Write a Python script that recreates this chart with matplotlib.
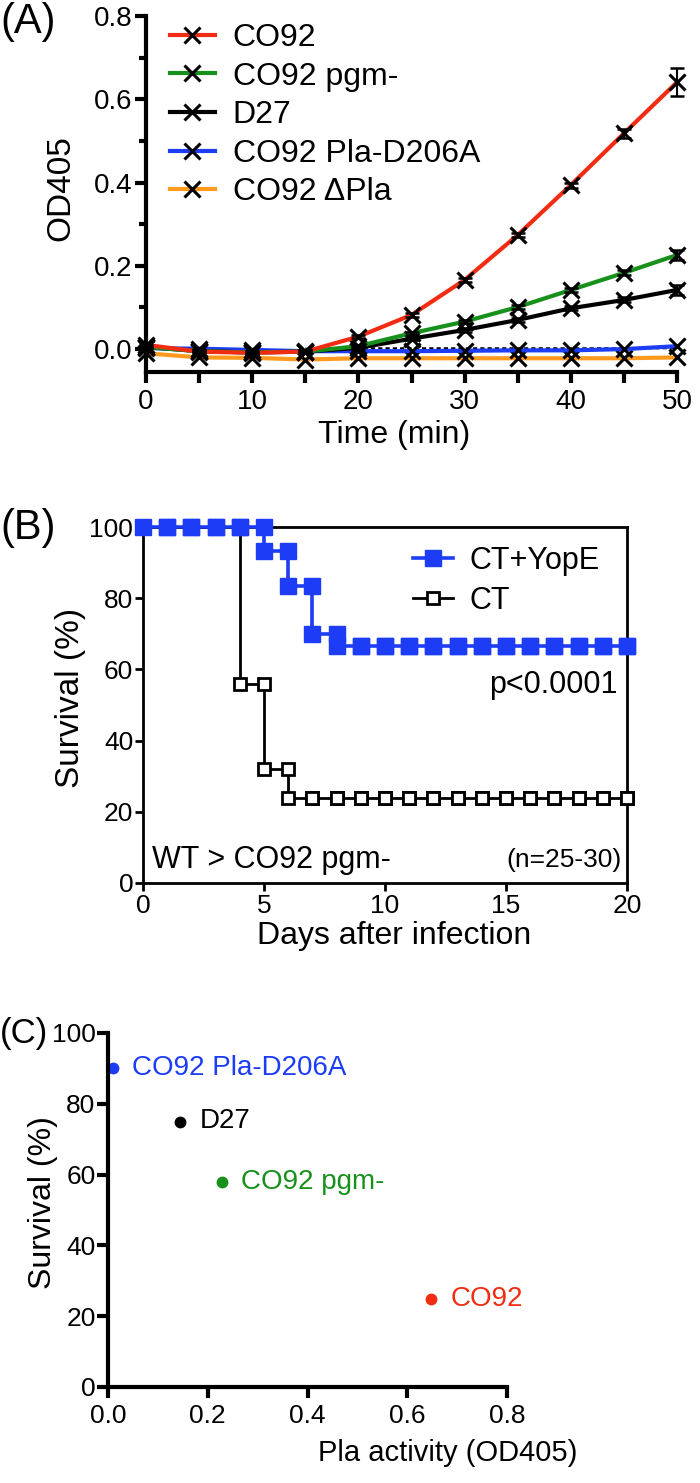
import matplotlib
matplotlib.use("Agg")
import matplotlib.pyplot as plt
import numpy as np

plt.rcParams['font.family'] = ['Liberation Sans', 'DejaVu Sans']

# ---- panel A : Pla activity over time ----
time_min = [0, 5, 10, 15, 20, 25, 30, 35, 40, 45, 50]
od_co92 = [0.010, -0.006, -0.009, -0.006, 0.030, 0.082, 0.166, 0.274, 0.394, 0.518, 0.641]
od_pgm = [0.005, -0.005, -0.008, -0.006, 0.007, 0.038, 0.066, 0.101, 0.142, 0.183, 0.226]
od_d27 = [0.005, -0.005, -0.008, -0.006, 0.003, 0.025, 0.046, 0.070, 0.098, 0.118, 0.142]
od_d206a = [0.002, 0.001, -0.002, -0.005, -0.005, -0.005, -0.004, -0.003, -0.003, 0.000, 0.007]
od_dpla = [-0.010, -0.020, -0.021, -0.025, -0.022, -0.022, -0.022, -0.022, -0.022, -0.022, -0.020]
err_co92 = [0.003, 0.003, 0.003, 0.003, 0.004, 0.004, 0.005, 0.005, 0.006, 0.010, 0.033]
err_pgm = [0.003, 0.003, 0.003, 0.003, 0.003, 0.003, 0.004, 0.004, 0.005, 0.006, 0.012]
err_d27 = [0.003, 0.003, 0.003, 0.003, 0.003, 0.003, 0.004, 0.004, 0.005, 0.006, 0.013]
ctrl_time = [15, 20, 25, 30, 35, 40, 45, 50]
od_ctrl = [0.001, 0.002, 0.002, 0.002, 0.002, 0.002, 0.002, 0.002]

# ---- panel B : survival ----
days = list(range(21))
surv_yope = [100, 100, 100, 100, 100, 93.3, 83.3, 70, 66.7, 66.7, 66.7, 66.7, 66.7,
             66.7, 66.7, 66.7, 66.7, 66.7, 66.7, 66.7, 66.7]
surv_ct = [100, 100, 100, 100, 56, 32, 24, 24, 24, 24, 24, 24, 24, 24, 24, 24, 24,
           24, 24, 24, 24]

# ---- panel C : survival vs activity ----
strains_c = ['CO92 Pla-D206A', 'D27', 'CO92 pgm-', 'CO92']
pla_act = [0.01, 0.144, 0.228, 0.647]
surv_c = [90, 75, 58, 25]

RED = '#f22c12'
GREEN = '#17901c'
BLUE = '#1c3cf5'
ORANGE = '#ff9a1e'
colors_c = [BLUE, 'black', GREEN, RED]

W, H = 700, 1483
def fx(px):
    return px / W
def fy(py):
    return 1 - py / H

fig = plt.figure(figsize=(7, 14.83), dpi=100)

# ================= (A) =================
axA = fig.add_axes([fx(146), fy(372), fx(677) - fx(146), (372 - 16) / H])
series = [(od_co92, err_co92, RED, 'CO92'),
          (od_pgm, err_pgm, GREEN, 'CO92 pgm-'),
          (od_d27, err_d27, 'black', 'D27'),
          (od_d206a, None, BLUE, 'CO92 Pla-D206A'),
          (od_dpla, None, ORANGE, 'CO92 \u0394Pla')]
axA.plot(ctrl_time, od_ctrl, color='black', lw=1.5, ls=(0, (2, 1.5)), zorder=1)
handles = []
for vals, err, col, lab in reversed(series):
    h, = axA.plot(time_min, vals, color=col, lw=3, marker='x', ms=12, mec='black',
                  mew=2.2, label=lab, zorder=2, clip_on=False)
    if err is not None:
        axA.errorbar(time_min, vals, yerr=err, fmt='none', ecolor='black', elinewidth=1.5,
                     capsize=5, capthick=1.8, zorder=3, clip_on=False)
    handles.append(h)
handles = handles[::-1]
axA.set_xlim(0, 50)
axA.set_ylim(-0.055, 0.8)
axA.set_xticks(np.arange(0, 51, 10))
axA.set_xticks(np.arange(5, 50, 10), minor=True)
axA.set_yticks(np.arange(0, 0.81, 0.2))
axA.set_yticks(np.arange(0.1, 0.8, 0.2), minor=True)
axA.set_yticklabels(['0.0', '0.2', '0.4', '0.6', '0.8'])
for s in ['top', 'right']:
    axA.spines[s].set_visible(False)
for s in ['left', 'bottom']:
    axA.spines[s].set_linewidth(3)
axA.tick_params(axis='both', which='major', length=8, width=3, labelsize=20)
axA.tick_params(axis='x', which='major', pad=4)
axA.tick_params(axis='y', which='major', pad=2)
axA.tick_params(axis='x', which='minor', length=8, width=3)
axA.tick_params(axis='y', which='minor', length=5, width=3)
axA.set_xlabel('Time (min)', fontsize=23)
axA.xaxis.set_label_coords(fx(394), fy(420), transform=fig.transFigure)
axA.set_ylabel('OD405', fontsize=24)
axA.yaxis.set_label_coords(fx(76), fy(188), transform=fig.transFigure)
axA.legend(handles=handles, loc='upper left', bbox_to_anchor=(fx(170), fy(23)),
           bbox_transform=fig.transFigure, frameon=False, fontsize=23,
           handlelength=1.4, handletextpad=0.56, labelspacing=0.27,
           borderpad=0, borderaxespad=0)
fig.text(fx(0), fy(22), '(A)', fontsize=30, ha='left', va='center')

# ================= (B) =================
axB = fig.add_axes([fx(143), fy(883), fx(627) - fx(143), (883 - 527) / H])
axB.plot(days, surv_ct, color='black', lw=2, drawstyle='steps-post', zorder=2,
         clip_on=False)
axB.plot(days[1:], surv_ct[:-1], ls='none', marker='s', ms=9, mfc='white',
         mec='black', mew=2, zorder=3, clip_on=False)
axB.plot(days, surv_ct, ls='none', marker='s', ms=9, mfc='white', mec='black',
         mew=2, zorder=3, clip_on=False)
axB.plot(days, surv_yope, color=BLUE, lw=2.6, drawstyle='steps-post', zorder=4,
         clip_on=False)
axB.plot(days[1:], surv_yope[:-1], ls='none', marker='s', ms=12, color=BLUE,
         zorder=5, clip_on=False)
axB.plot(days, surv_yope, ls='none', marker='s', ms=12, color=BLUE, zorder=5,
         clip_on=False)
hB1, = axB.plot([], [], color=BLUE, lw=2.6, marker='s', ms=12, label='CT+YopE')
hB2, = axB.plot([], [], color='black', lw=2, marker='s', ms=9, mfc='white',
                mec='black', mew=2, label='CT')
axB.set_xlim(0, 20)
axB.set_ylim(0, 100)
axB.set_xticks([0, 5, 10, 15, 20])
axB.set_yticks([0, 20, 40, 60, 80, 100])
for s in axB.spines.values():
    s.set_linewidth(2)
axB.tick_params(axis='both', length=6, width=2, labelsize=19)
axB.tick_params(axis='x', pad=2)
axB.tick_params(axis='y', pad=1)
axB.set_xlabel('Days after infection', fontsize=23)
axB.xaxis.set_label_coords(fx(394), fy(921), transform=fig.transFigure)
axB.set_ylabel('Survival (%)', fontsize=24)
axB.yaxis.set_label_coords(fx(86), fy(698), transform=fig.transFigure)
axB.legend(handles=[hB1, hB2], loc='upper left', bbox_to_anchor=(fx(413), fy(546)),
           bbox_transform=fig.transFigure, frameon=False, fontsize=22,
           handlelength=1.3, handletextpad=0.55, labelspacing=0.33,
           borderpad=0, borderaxespad=0)
fig.text(fx(618), fy(685), 'p<0.0001', fontsize=22, ha='right', va='center')
fig.text(fx(152), fy(860), 'WT > CO92 pgm-', fontsize=22, ha='left', va='center')
fig.text(fx(622), fy(860), '(n=25-30)', fontsize=19, ha='right', va='center')
fig.text(fx(0), fy(528), '(B)', fontsize=30, ha='left', va='center')

# ================= (C) =================
axC = fig.add_axes([fx(108), fy(1387), fx(507) - fx(108), (1387 - 1033) / H])
for xv, yv, col, name in zip(pla_act, surv_c, colors_c, strains_c):
    axC.plot(xv, yv, 'o', color=col, ms=7.5, clip_on=False)
    axC.annotate(name, (xv, yv), xytext=(14, 0), textcoords='offset points',
                 color=col, fontsize=20, ha='left', va='center', annotation_clip=False)
axC.set_xlim(0, 0.8)
axC.set_ylim(0, 100)
axC.set_xticks([0, 0.2, 0.4, 0.6, 0.8])
axC.set_xticklabels(['0.0', '0.2', '0.4', '0.6', '0.8'])
axC.set_yticks([0, 20, 40, 60, 80, 100])
for s in ['top', 'right']:
    axC.spines[s].set_visible(False)
for s in ['left', 'bottom']:
    axC.spines[s].set_linewidth(3)
axC.tick_params(axis='both', length=8, width=3, labelsize=19)
axC.tick_params(axis='x', pad=4)
axC.tick_params(axis='y', pad=1)
axC.set_xlabel('Pla activity (OD405)', fontsize=21)
axC.xaxis.set_label_coords(fx(448), fy(1439), transform=fig.transFigure)
axC.set_ylabel('Survival (%)', fontsize=23)
axC.yaxis.set_label_coords(fx(58), fy(1203), transform=fig.transFigure)
fig.text(fx(0), fy(1033), '(C)', fontsize=25, ha='left', va='center')

fig.savefig('out.png', dpi=100)
